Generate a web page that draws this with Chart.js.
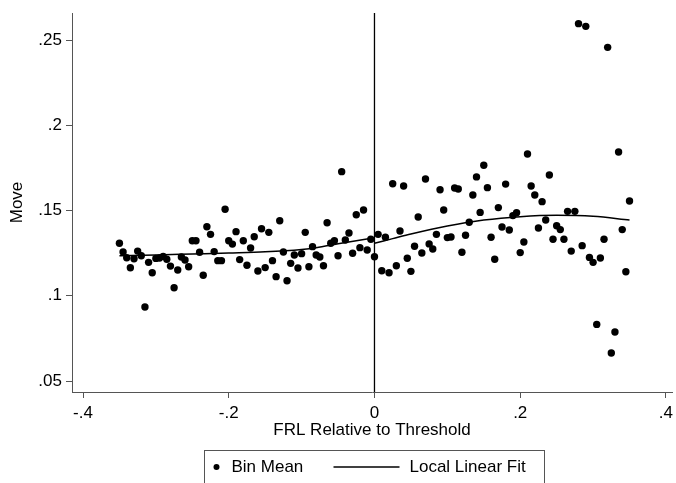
<!DOCTYPE html>
<html>
<head>
<meta charset="utf-8">
<script src="https://cdn.jsdelivr.net/npm/chart.js@4/dist/chart.umd.min.js"></script>
<style>
  html, body { margin: 0; padding: 0; background: #fff; }
  #wrap { width: 676px; height: 483px; }
</style>
</head>
<body>
<div id="wrap"><canvas id="rdPlot" width="676" height="483"></canvas></div>
<script>
// bin centres (FRL relative to threshold)
const binX = [
  -0.350, -0.345, -0.340, -0.335, -0.330, -0.325, -0.320, -0.315, -0.310, -0.305,
  -0.300, -0.295, -0.290, -0.285, -0.280, -0.275, -0.270, -0.265, -0.260, -0.255,
  -0.250, -0.245, -0.240, -0.235, -0.230, -0.225, -0.220, -0.215, -0.210, -0.205,
  -0.200, -0.195, -0.190, -0.185, -0.180, -0.175, -0.170, -0.165, -0.160, -0.155,
  -0.150, -0.145, -0.140, -0.135, -0.130, -0.125, -0.120, -0.115, -0.110, -0.105,
  -0.100, -0.095, -0.090, -0.085, -0.080, -0.075, -0.070, -0.065, -0.060, -0.055,
  -0.050, -0.045, -0.040, -0.035, -0.030, -0.025, -0.020, -0.015, -0.010, -0.005,
   0.000,  0.005,  0.010,  0.015,  0.020,  0.025,  0.030,  0.035,  0.040,  0.045,
   0.050,  0.055,  0.060,  0.065,  0.070,  0.075,  0.080,  0.085,  0.090,  0.095,
   0.100,  0.105,  0.110,  0.115,  0.120,  0.125,  0.130,  0.135,  0.140,  0.145,
   0.150,  0.155,  0.160,  0.165,  0.170,  0.175,  0.180,  0.185,  0.190,  0.195,
   0.200,  0.205,  0.210,  0.215,  0.220,  0.225,  0.230,  0.235,  0.240,  0.245,
   0.250,  0.255,  0.260,  0.265,  0.270,  0.275,  0.280,  0.285,  0.290,  0.295,
   0.300,  0.305,  0.310,  0.315,  0.320,  0.325,  0.330,  0.335,  0.340,  0.345,
   0.350
];

// bin means of Move
const binMean = [
  0.1308, 0.1257, 0.1223, 0.1164, 0.1217, 0.1262, 0.1235, 0.0934, 0.1196, 0.1135,
  0.1219, 0.1221, 0.1231, 0.1214, 0.1174, 0.1047, 0.1151, 0.1227, 0.1210, 0.1170,
  0.1323, 0.1323, 0.1255, 0.1120, 0.1405, 0.1360, 0.1259, 0.1206, 0.1206, 0.1507,
  0.1323, 0.1303, 0.1376, 0.1212, 0.1323, 0.1179, 0.1280, 0.1346, 0.1145, 0.1393,
  0.1165, 0.1372, 0.1206, 0.1112, 0.1440, 0.1257, 0.1088, 0.1190, 0.1239, 0.1163,
  0.1247, 0.1372, 0.1170, 0.1288, 0.1239, 0.1227, 0.1176, 0.1428, 0.1308, 0.1323,
  0.1235, 0.1728, 0.1327, 0.1368, 0.1249, 0.1475, 0.1282, 0.1503, 0.1268, 0.1331,
  0.1229, 0.1360, 0.1147, 0.1343, 0.1135, 0.1657, 0.1176, 0.1380, 0.1644, 0.1220,
  0.1143, 0.1290, 0.1462, 0.1251, 0.1685, 0.1304, 0.1274, 0.1360, 0.1622, 0.1503,
  0.1341, 0.1345, 0.1632, 0.1626, 0.1255, 0.1355, 0.1431, 0.1591, 0.1697, 0.1489,
  0.1765, 0.1634, 0.1343, 0.1214, 0.1517, 0.1403, 0.1655, 0.1386, 0.1470, 0.1487,
  0.1253, 0.1315, 0.1831, 0.1644, 0.1591, 0.1397, 0.1552, 0.1444, 0.1708, 0.1331,
  0.1411, 0.1388, 0.1331, 0.1495, 0.1262, 0.1495, 0.2596, 0.1294, 0.2580, 0.1225,
  0.1196, 0.0832, 0.1221, 0.1331, 0.2457, 0.0664, 0.0787, 0.1843, 0.1388, 0.1141,
  0.1556
];

// local linear fit, below and above the threshold
const fitLeftX  = [-0.35, -0.30, -0.25, -0.20, -0.15, -0.10, -0.08, -0.05, -0.025, 0];
const fitLeftY  = [0.1235, 0.1239, 0.1245, 0.1251, 0.1258, 0.1272, 0.1282, 0.1305, 0.1323, 0.1340];
const fitRightX = [0, 0.025, 0.05, 0.10, 0.15, 0.20, 0.25, 0.30, 0.35];
const fitRightY = [0.1308, 0.1335, 0.1362, 0.1409, 0.1444, 0.1464, 0.1472, 0.1466, 0.1444];

const thresholdX = 0;
const xTicks = [-0.4, -0.2, 0, 0.2, 0.4];
const yTicks = [0.05, 0.1, 0.15, 0.2, 0.25];
const xMin = -0.4151, xMax = 0.4083;
const yMin = 0.04355, yMax = 0.26584;

const toPts = (xs, ys) => xs.map((x, i) => ({ x: x, y: ys[i] }));
// stata style labels: .2 rather than 0.2
const stataLabel = v => String(+Number(v).toFixed(3)).replace(/^(-?)0\./, "$1.");
// keep chart.js from adding room for the end tick labels
const noPad = s => { s.paddingLeft = 0; s.paddingRight = 0; s.paddingTop = 0; s.paddingBottom = 0; };

const FONT = '"Liberation Sans", Arial, Helvetica, sans-serif';
const AXIS = "#555";

// boxed legend under the x title, centred on the threshold line
const boxLegend = {
  id: "boxLegend",
  afterDraw(chart) {
    const ctx = chart.ctx;
    const cx = chart.scales.x.getPixelForValue(thresholdX);
    const left = Math.round(cx - 170) + 0.5;
    const top = 450.5;
    const midY = 467;
    ctx.save();
    ctx.strokeStyle = AXIS;
    ctx.lineWidth = 1;
    ctx.strokeRect(left, top, 340, 45);

    ctx.fillStyle = "#000";
    ctx.beginPath();
    ctx.arc(left + 12, midY, 3, 0, Math.PI * 2);
    ctx.fill();

    ctx.font = "17px " + FONT;
    ctx.textBaseline = "middle";
    ctx.fillText("Bin Mean", left + 27, midY);

    ctx.strokeStyle = "#000";
    ctx.lineWidth = 1.4;
    ctx.beginPath();
    ctx.moveTo(left + 129, midY);
    ctx.lineTo(left + 195, midY);
    ctx.stroke();
    ctx.fillText("Local Linear Fit", left + 205, midY);
    ctx.restore();
  }
};

new Chart(document.getElementById("rdPlot").getContext("2d"), {
  type: "scatter",
  data: {
    datasets: [
      {
        label: "Bin Mean",
        data: toPts(binX, binMean),
        backgroundColor: "#000",
        borderWidth: 0,
        pointRadius: 3.7,
        order: 2
      },
      {
        label: "Local Linear Fit",
        data: toPts(fitLeftX, fitLeftY),
        showLine: true,
        borderColor: "#000",
        borderWidth: 1.5,
        pointRadius: 0,
        cubicInterpolationMode: "monotone",
        order: 1
      },
      {
        label: "Local Linear Fit (right)",
        data: toPts(fitRightX, fitRightY),
        showLine: true,
        borderColor: "#000",
        borderWidth: 1.5,
        pointRadius: 0,
        cubicInterpolationMode: "monotone",
        order: 1
      },
      {
        label: "Threshold",
        data: [{ x: thresholdX, y: yMin }, { x: thresholdX, y: yMax }],
        showLine: true,
        borderColor: "#000",
        borderWidth: 1.3,
        pointRadius: 0,
        order: 0
      }
    ]
  },
  options: {
    responsive: false,
    devicePixelRatio: 1,
    animation: false,
    events: [],
    layout: { padding: { top: 13, right: 0, bottom: 42, left: 0 } },
    plugins: {
      legend: { display: false },
      tooltip: { enabled: false }
    },
    scales: {
      x: {
        type: "linear",
        position: "bottom",
        min: xMin,
        max: xMax,
        afterBuildTicks: s => { s.ticks = xTicks.map(v => ({ value: v })); },
        afterFit: s => { s.height = 49; noPad(s); },
        grid: { drawOnChartArea: false, drawTicks: true, tickLength: 6, color: AXIS },
        border: { display: true, color: AXIS, width: 1 },
        ticks: {
          color: "#000",
          padding: 5,
          maxRotation: 0,
          font: { family: FONT, size: 17 },
          callback: v => stataLabel(v)
        },
        title: {
          display: true,
          text: "FRL Relative to Threshold",
          color: "#000",
          font: { family: FONT, size: 17 },
          padding: { top: 0, bottom: 0 }
        }
      },
      y: {
        type: "linear",
        min: yMin,
        max: yMax,
        afterBuildTicks: s => { s.ticks = yTicks.map(v => ({ value: v })); },
        afterFit: s => { s.width = 72; noPad(s); },
        grid: { drawOnChartArea: false, drawTicks: true, tickLength: 6, color: AXIS },
        border: { display: true, color: AXIS, width: 1 },
        ticks: {
          color: "#000",
          padding: 4,
          font: { family: FONT, size: 17 },
          callback: v => stataLabel(v)
        },
        title: {
          display: true,
          text: "Move",
          color: "#000",
          font: { family: FONT, size: 17 },
          padding: { top: 7, bottom: 0 }
        }
      }
    }
  },
  plugins: [boxLegend]
});
</script>
</body>
</html>
